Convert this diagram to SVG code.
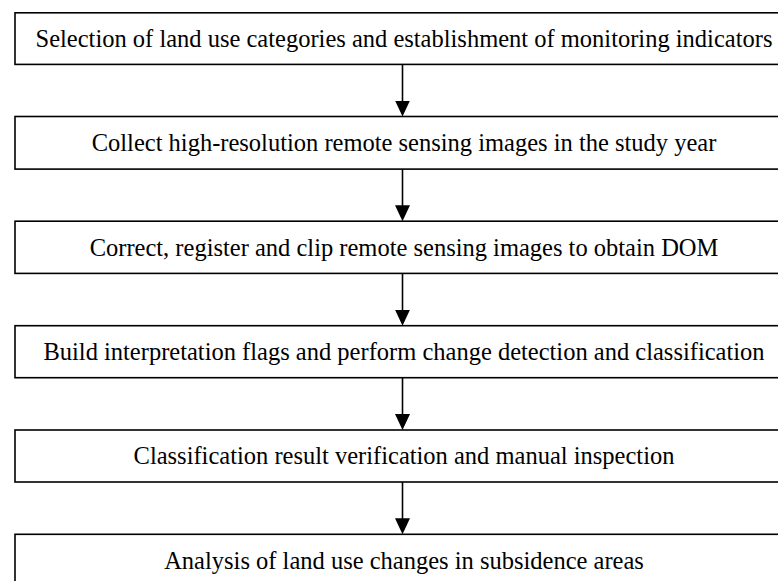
<svg xmlns="http://www.w3.org/2000/svg" width="778" height="581" viewBox="0 0 778 581">
<style>
.box{fill:#fff;stroke:#000;stroke-width:1.6}
.t{font-family:"Liberation Serif","Times New Roman",serif;font-size:24.5px;text-anchor:middle;fill:#000}
.c{stroke:#000;stroke-width:1.6;fill:none;marker-end:url(#ah)}
</style>
<defs>
<marker id="ah" markerUnits="userSpaceOnUse" markerWidth="16" markerHeight="15" refX="9.5" refY="7.5" orient="auto" viewBox="0 0 16 15">
<path d="M0,0 L16,7.5 L0,15 Z" fill="#000"/>
</marker>
</defs>
<rect width="778" height="581" fill="#fff"/>
<g id="n1"><rect class="box" x="15" y="12.8" width="776" height="51.6"/><text class="t" x="404" y="47">Selection of land use categories and establishment of monitoring indicators</text></g>
<g id="n2"><rect class="box" x="15" y="116.5" width="776" height="52.6"/><text class="t" x="404" y="151">Collect high-resolution remote sensing images in the study year</text></g>
<g id="n3"><rect class="box" x="15" y="221.2" width="776" height="52.2"/><text class="t" x="404" y="255.5">Correct, register and clip remote sensing images to obtain DOM</text></g>
<g id="n4"><rect class="box" x="15" y="325.7" width="776" height="52"/><text class="t" x="404" y="360">Build interpretation flags and perform change detection and classification</text></g>
<g id="n5"><rect class="box" x="15" y="430" width="776" height="52"/><text class="t" x="404" y="464.3">Classification result verification and manual inspection</text></g>
<g id="n6"><rect class="box" x="15" y="534.3" width="776" height="52"/><text class="t" x="404" y="568.5">Analysis of land use changes in subsidence areas</text></g>
<g id="connectors">
<line class="c" x1="402.5" y1="64.4" x2="402.5" y2="110"/>
<line class="c" x1="402.5" y1="169.1" x2="402.5" y2="214.7"/>
<line class="c" x1="402.5" y1="273.4" x2="402.5" y2="319.2"/>
<line class="c" x1="402.5" y1="377.7" x2="402.5" y2="423.5"/>
<line class="c" x1="402.5" y1="482" x2="402.5" y2="527.8"/>
</g>
</svg>
